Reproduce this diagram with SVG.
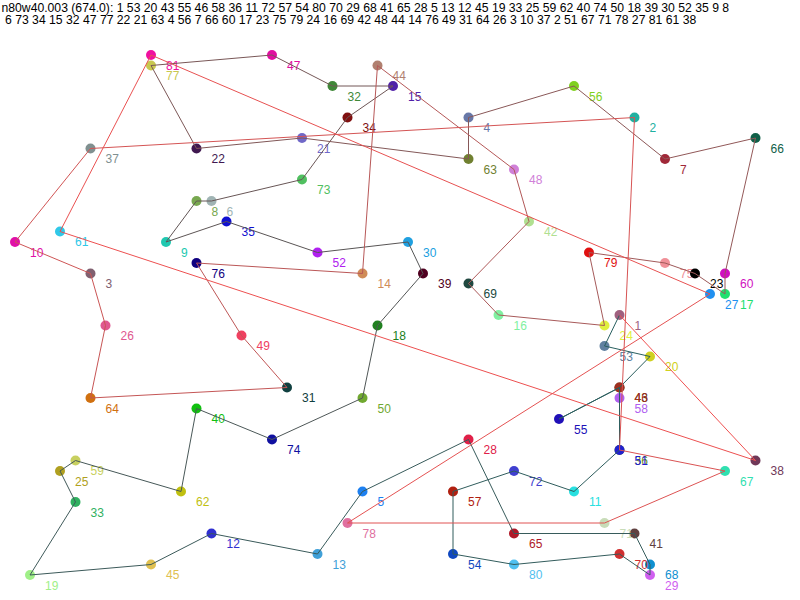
<svg xmlns="http://www.w3.org/2000/svg" width="800" height="600" viewBox="0 0 800 600">
<style>
text{font-family:"Liberation Sans",Arial,sans-serif;font-size:12px}
.hdr{fill:#000;font-size:12.2px}
#edges line{stroke-width:1;fill:none}
</style>
<rect width="800" height="600" fill="#fff"/>
<text class="hdr" x="1.5" y="12">n80w40.003 (674.0): 1 53 20 43 55 46 58 36 11 72 57 54 80 70 29 68 41 65 28 5 13 12 45 19 33 25 59 62 40 74 50 18 39 30 52 35 9 8</text>
<text class="hdr" x="5" y="24">6 73 34 15 32 47 77 22 21 63 4 56 7 66 60 17 23 75 79 24 16 69 42 48 44 14 76 49 31 64 26 3 10 37 2 51 67 71 78 27 81 61 38</text>
<g id="nodes">
<g id="n1"><circle cx="619.5" cy="315" r="5" fill="#A0607F"/><text x="634.5" y="329.5" fill="#A0607F">1</text></g>
<g id="n2"><circle cx="634.5" cy="117.5" r="5" fill="#20B0A0"/><text x="649.5" y="132" fill="#20B0A0">2</text></g>
<g id="n3"><circle cx="90.5" cy="273.5" r="5" fill="#806070"/><text x="105.5" y="288" fill="#806070">3</text></g>
<g id="n4"><circle cx="468.5" cy="117.5" r="5" fill="#6878A8"/><text x="483.5" y="132" fill="#6878A8">4</text></g>
<g id="n5"><circle cx="362.5" cy="491.5" r="5" fill="#1E80F0"/><text x="377.5" y="506" fill="#1E80F0">5</text></g>
<g id="n6"><circle cx="211.5" cy="201" r="5" fill="#A0B4B4"/><text x="226.5" y="215.5" fill="#A0B4B4">6</text></g>
<g id="n7"><circle cx="665" cy="159" r="5" fill="#A02838"/><text x="680" y="173.5" fill="#A02838">7</text></g>
<g id="n8"><circle cx="196.5" cy="201" r="5" fill="#78A850"/><text x="211.5" y="215.5" fill="#78A850">8</text></g>
<g id="n9"><circle cx="166" cy="242" r="5" fill="#20C8B0"/><text x="181" y="256.5" fill="#20C8B0">9</text></g>
<g id="n10"><circle cx="15" cy="242" r="5" fill="#E010A8"/><text x="30" y="256.5" fill="#E010A8">10</text></g>
<g id="n11"><circle cx="574" cy="491.5" r="5" fill="#28E0E0"/><text x="589" y="506" fill="#28E0E0">11</text></g>
<g id="n12"><circle cx="211.5" cy="533.5" r="5" fill="#3030D0"/><text x="226.5" y="548" fill="#3030D0">12</text></g>
<g id="n13"><circle cx="317.5" cy="554" r="5" fill="#40A0D8"/><text x="332.5" y="568.5" fill="#40A0D8">13</text></g>
<g id="n14"><circle cx="362.5" cy="273.5" r="5" fill="#D08C58"/><text x="377.5" y="288" fill="#D08C58">14</text></g>
<g id="n15"><circle cx="393" cy="86" r="5" fill="#5020A8"/><text x="408" y="100.5" fill="#5020A8">15</text></g>
<g id="n16"><circle cx="498.5" cy="315" r="5" fill="#80F0A0"/><text x="513.5" y="329.5" fill="#80F0A0">16</text></g>
<g id="n17"><circle cx="725" cy="294" r="5" fill="#20E070"/><text x="740" y="308.5" fill="#20E070">17</text></g>
<g id="n18"><circle cx="377.5" cy="325.5" r="5" fill="#208020"/><text x="392.5" y="340" fill="#208020">18</text></g>
<g id="n19"><circle cx="30" cy="575" r="5" fill="#A0F088"/><text x="45" y="589.5" fill="#A0F088">19</text></g>
<g id="n20"><circle cx="650" cy="356.5" r="5" fill="#D0D020"/><text x="665" y="371" fill="#D0D020">20</text></g>
<g id="n21"><circle cx="302" cy="138" r="5" fill="#7068C8"/><text x="317" y="152.5" fill="#7068C8">21</text></g>
<g id="n22"><circle cx="196.5" cy="148.5" r="5" fill="#401850"/><text x="211.5" y="163" fill="#401850">22</text></g>
<g id="n75"><circle cx="665" cy="263" r="5" fill="#F09098"/><text x="680" y="277.5" fill="#F09098">75</text></g>
<g id="n23"><circle cx="695" cy="273.5" r="5" fill="#000000"/><text x="710" y="288" fill="#000000">23</text></g>
<g id="n24"><circle cx="604.5" cy="325.5" r="5" fill="#E0F040"/><text x="619.5" y="340" fill="#E0F040">24</text></g>
<g id="n25"><circle cx="60" cy="471" r="5" fill="#B0A020"/><text x="75" y="485.5" fill="#B0A020">25</text></g>
<g id="n26"><circle cx="105.5" cy="325.5" r="5" fill="#E05890"/><text x="120.5" y="340" fill="#E05890">26</text></g>
<g id="n27"><circle cx="710" cy="294" r="5" fill="#2090F0"/><text x="725" y="308.5" fill="#2090F0">27</text></g>
<g id="n28"><circle cx="468.5" cy="439.5" r="5" fill="#E02048"/><text x="483.5" y="454" fill="#E02048">28</text></g>
<g id="n29"><circle cx="650" cy="575" r="5" fill="#D060F0"/><text x="665" y="589.5" fill="#D060F0">29</text></g>
<g id="n30"><circle cx="408" cy="242" r="5" fill="#20A0E0"/><text x="423" y="256.5" fill="#20A0E0">30</text></g>
<g id="n31"><circle cx="287" cy="387.5" r="5" fill="#104040"/><text x="302" y="402" fill="#104040">31</text></g>
<g id="n32"><circle cx="332.5" cy="86" r="5" fill="#408838"/><text x="347.5" y="100.5" fill="#408838">32</text></g>
<g id="n33"><circle cx="75.5" cy="502" r="5" fill="#30B060"/><text x="90.5" y="516.5" fill="#30B060">33</text></g>
<g id="n34"><circle cx="347.5" cy="117.5" r="5" fill="#801010"/><text x="362.5" y="132" fill="#801010">34</text></g>
<g id="n35"><circle cx="226.5" cy="221.5" r="5" fill="#1010D0"/><text x="241.5" y="236" fill="#1010D0">35</text></g>
<g id="n36"><circle cx="619.5" cy="450" r="5" fill="#6B8E23"/><text x="634.5" y="464.5" fill="#6B8E23">36</text></g>
<g id="n37"><circle cx="90.5" cy="148.5" r="5" fill="#809090"/><text x="105.5" y="163" fill="#809090">37</text></g>
<g id="n38"><circle cx="755.5" cy="460.5" r="5" fill="#703858"/><text x="770.5" y="475" fill="#703858">38</text></g>
<g id="n39"><circle cx="423" cy="273.5" r="5" fill="#500020"/><text x="438" y="288" fill="#500020">39</text></g>
<g id="n40"><circle cx="196.5" cy="408.5" r="5" fill="#10C010"/><text x="211.5" y="423" fill="#10C010">40</text></g>
<g id="n41"><circle cx="634.5" cy="533.5" r="5" fill="#604040"/><text x="649.5" y="548" fill="#604040">41</text></g>
<g id="n42"><circle cx="529" cy="221.5" r="5" fill="#B0E090"/><text x="544" y="236" fill="#B0E090">42</text></g>
<g id="n43"><circle cx="619.5" cy="387.5" r="5" fill="#604020"/><text x="634.5" y="402" fill="#604020">43</text></g>
<g id="n44"><circle cx="377.5" cy="65.5" r="5" fill="#B08070"/><text x="392.5" y="80" fill="#B08070">44</text></g>
<g id="n45"><circle cx="151" cy="564.5" r="5" fill="#E0C050"/><text x="166" y="579" fill="#E0C050">45</text></g>
<g id="n46"><circle cx="619.5" cy="387.5" r="5" fill="#A03020"/><text x="634.5" y="402" fill="#A03020">46</text></g>
<g id="n47"><circle cx="272" cy="55" r="5" fill="#E010A0"/><text x="287" y="69.5" fill="#E010A0">47</text></g>
<g id="n48"><circle cx="514" cy="169.5" r="5" fill="#D080D8"/><text x="529" y="184" fill="#D080D8">48</text></g>
<g id="n49"><circle cx="241.5" cy="335.5" r="5" fill="#F04060"/><text x="256.5" y="350" fill="#F04060">49</text></g>
<g id="n50"><circle cx="362.5" cy="398" r="5" fill="#70A830"/><text x="377.5" y="412.5" fill="#70A830">50</text></g>
<g id="n51"><circle cx="619.5" cy="450" r="5" fill="#2020D0"/><text x="634.5" y="464.5" fill="#2020D0">51</text></g>
<g id="n52"><circle cx="317.5" cy="252.5" r="5" fill="#B020F0"/><text x="332.5" y="267" fill="#B020F0">52</text></g>
<g id="n53"><circle cx="604.5" cy="346" r="5" fill="#6080A0"/><text x="619.5" y="360.5" fill="#6080A0">53</text></g>
<g id="n54"><circle cx="453" cy="554" r="5" fill="#1048C0"/><text x="468" y="568.5" fill="#1048C0">54</text></g>
<g id="n55"><circle cx="559" cy="419" r="5" fill="#2010B8"/><text x="574" y="433.5" fill="#2010B8">55</text></g>
<g id="n56"><circle cx="574" cy="86" r="5" fill="#80D020"/><text x="589" y="100.5" fill="#80D020">56</text></g>
<g id="n57"><circle cx="453" cy="491.5" r="5" fill="#B02010"/><text x="468" y="506" fill="#B02010">57</text></g>
<g id="n58"><circle cx="619.5" cy="398" r="5" fill="#B060F0"/><text x="634.5" y="412.5" fill="#B060F0">58</text></g>
<g id="n59"><circle cx="75.5" cy="460.5" r="5" fill="#C8D060"/><text x="90.5" y="475" fill="#C8D060">59</text></g>
<g id="n60"><circle cx="725" cy="273.5" r="5" fill="#D010C0"/><text x="740" y="288" fill="#D010C0">60</text></g>
<g id="n61"><circle cx="60" cy="231.5" r="5" fill="#30C8E8"/><text x="75" y="246" fill="#30C8E8">61</text></g>
<g id="n62"><circle cx="181" cy="491.5" r="5" fill="#C0C010"/><text x="196" y="506" fill="#C0C010">62</text></g>
<g id="n63"><circle cx="468.5" cy="159" r="5" fill="#708030"/><text x="483.5" y="173.5" fill="#708030">63</text></g>
<g id="n64"><circle cx="90.5" cy="398" r="5" fill="#D07010"/><text x="105.5" y="412.5" fill="#D07010">64</text></g>
<g id="n65"><circle cx="514" cy="533.5" r="5" fill="#B01828"/><text x="529" y="548" fill="#B01828">65</text></g>
<g id="n66"><circle cx="755.5" cy="138" r="5" fill="#106048"/><text x="770.5" y="152.5" fill="#106048">66</text></g>
<g id="n67"><circle cx="725" cy="471" r="5" fill="#30E0B0"/><text x="740" y="485.5" fill="#30E0B0">67</text></g>
<g id="n68"><circle cx="650" cy="564.5" r="5" fill="#1090D0"/><text x="665" y="579" fill="#1090D0">68</text></g>
<g id="n69"><circle cx="468.5" cy="283.5" r="5" fill="#204840"/><text x="483.5" y="298" fill="#204840">69</text></g>
<g id="n70"><circle cx="619.5" cy="554" r="5" fill="#D03030"/><text x="634.5" y="568.5" fill="#D03030">70</text></g>
<g id="n71"><circle cx="604.5" cy="523" r="5" fill="#C8DCB8"/><text x="619.5" y="537.5" fill="#C8DCB8">71</text></g>
<g id="n72"><circle cx="514" cy="471" r="5" fill="#4040D0"/><text x="529" y="485.5" fill="#4040D0">72</text></g>
<g id="n73"><circle cx="302" cy="179.5" r="5" fill="#50C060"/><text x="317" y="194" fill="#50C060">73</text></g>
<g id="n74"><circle cx="272" cy="439.5" r="5" fill="#1010A0"/><text x="287" y="454" fill="#1010A0">74</text></g>
<g id="n76"><circle cx="196.5" cy="263" r="5" fill="#100080"/><text x="211.5" y="277.5" fill="#100080">76</text></g>
<g id="n77"><circle cx="151" cy="65.5" r="5" fill="#C8C850"/><text x="166" y="80" fill="#C8C850">77</text></g>
<g id="n78"><circle cx="347.5" cy="523" r="5" fill="#E070A0"/><text x="362.5" y="537.5" fill="#E070A0">78</text></g>
<g id="n79"><circle cx="589" cy="252.5" r="5" fill="#E01010"/><text x="604" y="267" fill="#E01010">79</text></g>
<g id="n80"><circle cx="514" cy="564.5" r="5" fill="#50C0F0"/><text x="529" y="579" fill="#50C0F0">80</text></g>
<g id="n81"><circle cx="151" cy="55" r="5" fill="#F010A0"/><text x="166" y="69.5" fill="#F010A0">81</text></g>
</g>
<g id="edges">
<line x1="619.5" y1="315" x2="604.5" y2="346" stroke="rgb(40,95,95)"/>
<line x1="604.5" y1="346" x2="650" y2="356.5" stroke="rgb(41,95,95)"/>
<line x1="650" y1="356.5" x2="619.5" y2="387.5" stroke="rgb(42,94,94)"/>
<line x1="619.5" y1="387.5" x2="559" y2="419" stroke="rgb(43,94,94)"/>
<line x1="559" y1="419" x2="619.5" y2="387.5" stroke="rgb(44,94,94)"/>
<line x1="619.5" y1="387.5" x2="619.5" y2="398" stroke="rgb(45,94,94)"/>
<line x1="619.5" y1="398" x2="619.5" y2="450" stroke="rgb(45,94,94)"/>
<line x1="619.5" y1="450" x2="574" y2="491.5" stroke="rgb(46,93,93)"/>
<line x1="574" y1="491.5" x2="514" y2="471" stroke="rgb(47,93,93)"/>
<line x1="514" y1="471" x2="453" y2="491.5" stroke="rgb(48,93,93)"/>
<line x1="453" y1="491.5" x2="453" y2="554" stroke="rgb(49,93,93)"/>
<line x1="453" y1="554" x2="514" y2="564.5" stroke="rgb(50,92,92)"/>
<line x1="514" y1="564.5" x2="619.5" y2="554" stroke="rgb(51,92,92)"/>
<line x1="619.5" y1="554" x2="650" y2="575" stroke="rgb(52,92,92)"/>
<line x1="650" y1="575" x2="650" y2="564.5" stroke="rgb(53,92,92)"/>
<line x1="650" y1="564.5" x2="634.5" y2="533.5" stroke="rgb(54,92,92)"/>
<line x1="634.5" y1="533.5" x2="514" y2="533.5" stroke="rgb(55,91,91)"/>
<line x1="514" y1="533.5" x2="468.5" y2="439.5" stroke="rgb(55,91,91)"/>
<line x1="468.5" y1="439.5" x2="362.5" y2="491.5" stroke="rgb(56,91,91)"/>
<line x1="362.5" y1="491.5" x2="317.5" y2="554" stroke="rgb(57,91,91)"/>
<line x1="317.5" y1="554" x2="211.5" y2="533.5" stroke="rgb(58,90,90)"/>
<line x1="211.5" y1="533.5" x2="151" y2="564.5" stroke="rgb(59,90,90)"/>
<line x1="151" y1="564.5" x2="30" y2="575" stroke="rgb(60,90,90)"/>
<line x1="30" y1="575" x2="75.5" y2="502" stroke="rgb(63,90,90)"/>
<line x1="75.5" y1="502" x2="60" y2="471" stroke="rgb(65,89,89)"/>
<line x1="60" y1="471" x2="75.5" y2="460.5" stroke="rgb(68,89,89)"/>
<line x1="75.5" y1="460.5" x2="181" y2="491.5" stroke="rgb(70,88,88)"/>
<line x1="181" y1="491.5" x2="196.5" y2="408.5" stroke="rgb(73,88,88)"/>
<line x1="196.5" y1="408.5" x2="272" y2="439.5" stroke="rgb(75,88,88)"/>
<line x1="272" y1="439.5" x2="362.5" y2="398" stroke="rgb(78,87,87)"/>
<line x1="362.5" y1="398" x2="377.5" y2="325.5" stroke="rgb(80,87,87)"/>
<line x1="377.5" y1="325.5" x2="423" y2="273.5" stroke="rgb(83,86,86)"/>
<line x1="423" y1="273.5" x2="408" y2="242" stroke="rgb(85,86,86)"/>
<line x1="408" y1="242" x2="317.5" y2="252.5" stroke="rgb(88,85,85)"/>
<line x1="317.5" y1="252.5" x2="226.5" y2="221.5" stroke="rgb(90,85,85)"/>
<line x1="226.5" y1="221.5" x2="166" y2="242" stroke="rgb(93,85,85)"/>
<line x1="166" y1="242" x2="196.5" y2="201" stroke="rgb(97,85,85)"/>
<line x1="196.5" y1="201" x2="211.5" y2="201" stroke="rgb(100,86,86)"/>
<line x1="211.5" y1="201" x2="302" y2="179.5" stroke="rgb(104,86,86)"/>
<line x1="302" y1="179.5" x2="347.5" y2="117.5" stroke="rgb(107,86,86)"/>
<line x1="347.5" y1="117.5" x2="393" y2="86" stroke="rgb(110,86,86)"/>
<line x1="393" y1="86" x2="332.5" y2="86" stroke="rgb(114,87,87)"/>
<line x1="332.5" y1="86" x2="272" y2="55" stroke="rgb(117,87,87)"/>
<line x1="272" y1="55" x2="151" y2="65.5" stroke="rgb(121,87,87)"/>
<line x1="151" y1="65.5" x2="196.5" y2="148.5" stroke="rgb(124,87,87)"/>
<line x1="196.5" y1="148.5" x2="302" y2="138" stroke="rgb(128,87,87)"/>
<line x1="302" y1="138" x2="468.5" y2="159" stroke="rgb(131,88,88)"/>
<line x1="468.5" y1="159" x2="468.5" y2="117.5" stroke="rgb(134,88,88)"/>
<line x1="468.5" y1="117.5" x2="574" y2="86" stroke="rgb(138,88,88)"/>
<line x1="574" y1="86" x2="665" y2="159" stroke="rgb(141,88,88)"/>
<line x1="665" y1="159" x2="755.5" y2="138" stroke="rgb(145,88,88)"/>
<line x1="755.5" y1="138" x2="725" y2="273.5" stroke="rgb(148,89,89)"/>
<line x1="725" y1="273.5" x2="725" y2="294" stroke="rgb(151,89,89)"/>
<line x1="725" y1="294" x2="695" y2="273.5" stroke="rgb(155,89,89)"/>
<line x1="695" y1="273.5" x2="665" y2="263" stroke="rgb(158,90,90)"/>
<line x1="665" y1="263" x2="589" y2="252.5" stroke="rgb(162,90,90)"/>
<line x1="589" y1="252.5" x2="604.5" y2="325.5" stroke="rgb(165,90,90)"/>
<line x1="604.5" y1="325.5" x2="498.5" y2="315" stroke="rgb(168,90,90)"/>
<line x1="498.5" y1="315" x2="468.5" y2="283.5" stroke="rgb(171,89,89)"/>
<line x1="468.5" y1="283.5" x2="529" y2="221.5" stroke="rgb(174,89,89)"/>
<line x1="529" y1="221.5" x2="514" y2="169.5" stroke="rgb(178,88,88)"/>
<line x1="514" y1="169.5" x2="377.5" y2="65.5" stroke="rgb(181,88,88)"/>
<line x1="377.5" y1="65.5" x2="362.5" y2="273.5" stroke="rgb(184,88,88)"/>
<line x1="362.5" y1="273.5" x2="196.5" y2="263" stroke="rgb(187,87,87)"/>
<line x1="196.5" y1="263" x2="241.5" y2="335.5" stroke="rgb(190,87,87)"/>
<line x1="241.5" y1="335.5" x2="287" y2="387.5" stroke="rgb(193,86,86)"/>
<line x1="287" y1="387.5" x2="90.5" y2="398" stroke="rgb(196,86,86)"/>
<line x1="90.5" y1="398" x2="105.5" y2="325.5" stroke="rgb(199,85,85)"/>
<line x1="105.5" y1="325.5" x2="90.5" y2="273.5" stroke="rgb(203,85,85)"/>
<line x1="90.5" y1="273.5" x2="15" y2="242" stroke="rgb(206,85,85)"/>
<line x1="15" y1="242" x2="90.5" y2="148.5" stroke="rgb(209,84,84)"/>
<line x1="90.5" y1="148.5" x2="634.5" y2="117.5" stroke="rgb(212,84,84)"/>
<line x1="634.5" y1="117.5" x2="619.5" y2="450" stroke="rgb(215,83,83)"/>
<line x1="619.5" y1="450" x2="725" y2="471" stroke="rgb(218,83,83)"/>
<line x1="725" y1="471" x2="604.5" y2="523" stroke="rgb(221,83,83)"/>
<line x1="604.5" y1="523" x2="347.5" y2="523" stroke="rgb(224,82,82)"/>
<line x1="347.5" y1="523" x2="710" y2="294" stroke="rgb(228,82,82)"/>
<line x1="710" y1="294" x2="151" y2="55" stroke="rgb(231,81,81)"/>
<line x1="151" y1="55" x2="60" y2="231.5" stroke="rgb(234,81,81)"/>
<line x1="60" y1="231.5" x2="755.5" y2="460.5" stroke="rgb(237,80,80)"/>
<line x1="755.5" y1="460.5" x2="619.5" y2="315" stroke="rgb(240,80,80)"/>
</g>
</svg>
